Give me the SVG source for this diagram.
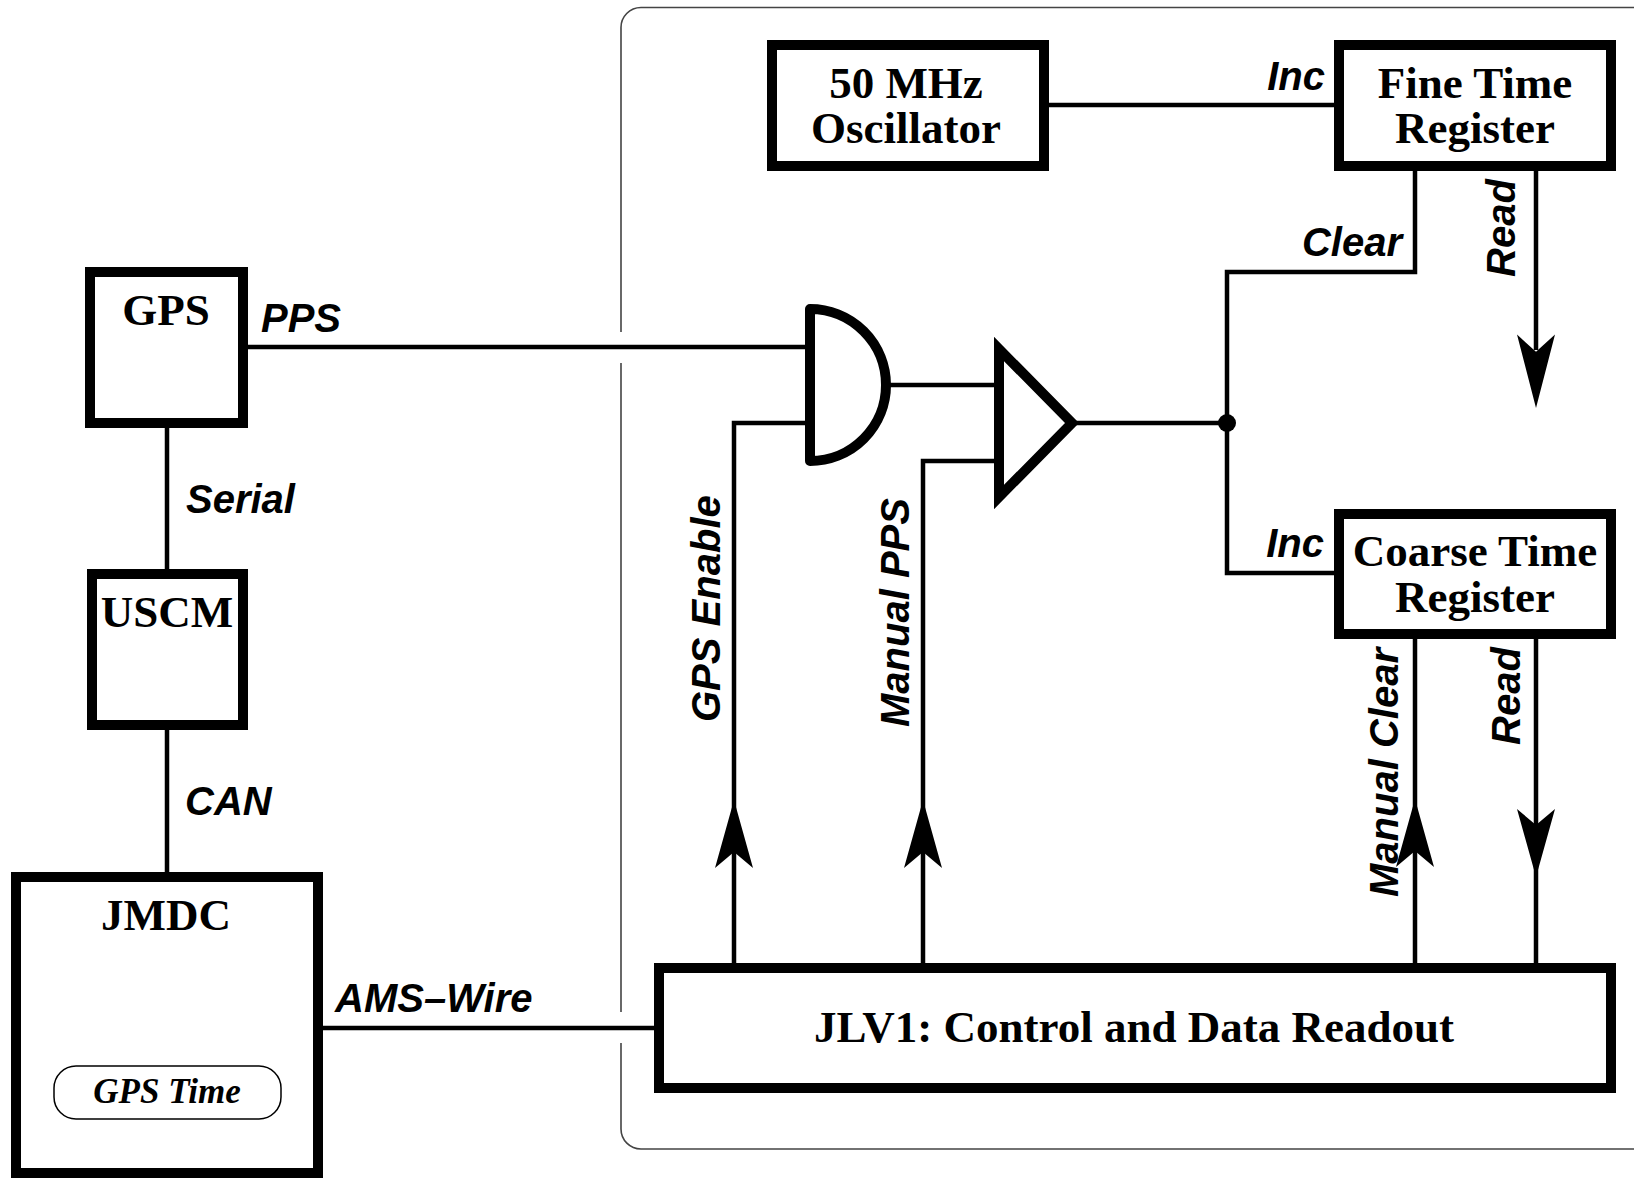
<svg xmlns="http://www.w3.org/2000/svg" xmlns:xlink="http://www.w3.org/1999/xlink" width="1634" height="1181" viewBox="0 0 1634 1181">
<style>
.box{fill:#fff;stroke:#000;stroke-width:10}
.w{fill:none;stroke:#000;stroke-width:4.5}
.t{font-family:"Liberation Serif","Times New Roman",serif;font-weight:bold;font-size:45px;fill:#000;text-anchor:middle}
.l{font-family:"Liberation Sans",Arial,sans-serif;font-weight:bold;font-style:italic;font-size:40px;fill:#000}
.frame{fill:none;stroke:#444;stroke-width:1.6}
</style>
<defs>
<path id="ah" d="M0 0 L19 68 L0 52 L-19 68 Z" fill="#000"/>
</defs>
<rect width="1634" height="1181" fill="#fff"/>
<g id="frame">
<path class="frame" d="M621 332 V28 A20 20 0 0 1 641 7.5 H1660 M621 363 V1012 M621 1043 V1129 A20 20 0 0 0 641 1149 H1660"/>
</g>
<g id="connectors">
<path class="w" d="M248 347 H805"/>
<path class="w" d="M167 428 V569"/>
<path class="w" d="M167 730 V872"/>
<path class="w" d="M323 1028 H654"/>
<path class="w" d="M1049 105 H1334"/>
<path class="w" d="M886 385 H995"/>
<path class="w" d="M734 963 V423 H805"/>
<path class="w" d="M923 963 V461 H995"/>
<path class="w" d="M1070 423 H1227"/>
<path class="w" d="M1415 171 V272 H1227 V573 H1334"/>
<path class="w" d="M1536 171 V350"/>
<path class="w" d="M1415 963 V639"/>
<path class="w" d="M1536 639 V963"/>
<circle cx="1227" cy="423" r="9" fill="#000"/>
<use xlink:href="#ah" href="#ah" transform="translate(734,800)"/>
<use xlink:href="#ah" href="#ah" transform="translate(923,800)"/>
<use xlink:href="#ah" href="#ah" transform="translate(1415,799)"/>
<use xlink:href="#ah" href="#ah" transform="translate(1536,877) rotate(180)"/>
<use xlink:href="#ah" href="#ah" transform="translate(1536,408) rotate(180) scale(1,1.08)"/>
<text class="l" x="261" y="332">PPS</text>
<text class="l" x="186" y="513">Serial</text>
<text class="l" x="185" y="815">CAN</text>
<text class="l" x="335" y="1012">AMS–Wire</text>
<text class="l" x="1325" y="90" text-anchor="end">Inc</text>
<text class="l" x="1402" y="256" text-anchor="end">Clear</text>
<text class="l" x="1324" y="557" text-anchor="end">Inc</text>
<text class="l" transform="translate(1515,277) rotate(-90)">Read</text>
<text class="l" transform="translate(720,722) rotate(-90)">GPS Enable</text>
<text class="l" transform="translate(909,727) rotate(-90)">Manual PPS</text>
<text class="l" transform="translate(1398,897) rotate(-90)">Manual Clear</text>
<text class="l" transform="translate(1520,745) rotate(-90)">Read</text>
</g>
<g id="gps">
<rect class="box" x="90" y="272" width="153" height="151"/>
<text class="t" x="166" y="325">GPS</text>
</g>
<g id="uscm">
<rect class="box" x="92" y="574" width="151" height="151"/>
<text class="t" x="167" y="627">USCM</text>
</g>
<g id="jmdc">
<rect class="box" x="16" y="877" width="302" height="296"/>
<text class="t" x="166" y="930">JMDC</text>
<rect x="54" y="1066" width="227" height="53" rx="22" fill="none" stroke="#000" stroke-width="1.5"/>
<text class="t" x="167" y="1103" style="font-style:italic;font-size:35px">GPS Time</text>
</g>
<g id="oscillator">
<rect class="box" x="772" y="45" width="272" height="121"/>
<text class="t" x="906" y="98">50 MHz</text>
<text class="t" x="906" y="143">Oscillator</text>
</g>
<g id="fine-time-register">
<rect class="box" x="1339" y="45" width="272" height="121"/>
<text class="t" x="1475" y="98">Fine Time</text>
<text class="t" x="1475" y="143">Register</text>
</g>
<g id="coarse-time-register">
<rect class="box" x="1339" y="514" width="272" height="120"/>
<text class="t" x="1475" y="566">Coarse Time</text>
<text class="t" x="1475" y="612">Register</text>
</g>
<g id="jlv1">
<rect class="box" x="659" y="968" width="952" height="120"/>
<text class="t" x="1134" y="1042">JLV1: Control and Data Readout</text>
</g>
<g id="and-gate">
<path d="M810 309 A76 76 0 0 1 810 461 Z" fill="#fff" stroke="#000" stroke-width="10" stroke-linejoin="round"/>
</g>
<g id="buffer">
<path d="M999 349 L1072 423 L999 497 Z" fill="#fff" stroke="#000" stroke-width="10"/>
</g>
</svg>
